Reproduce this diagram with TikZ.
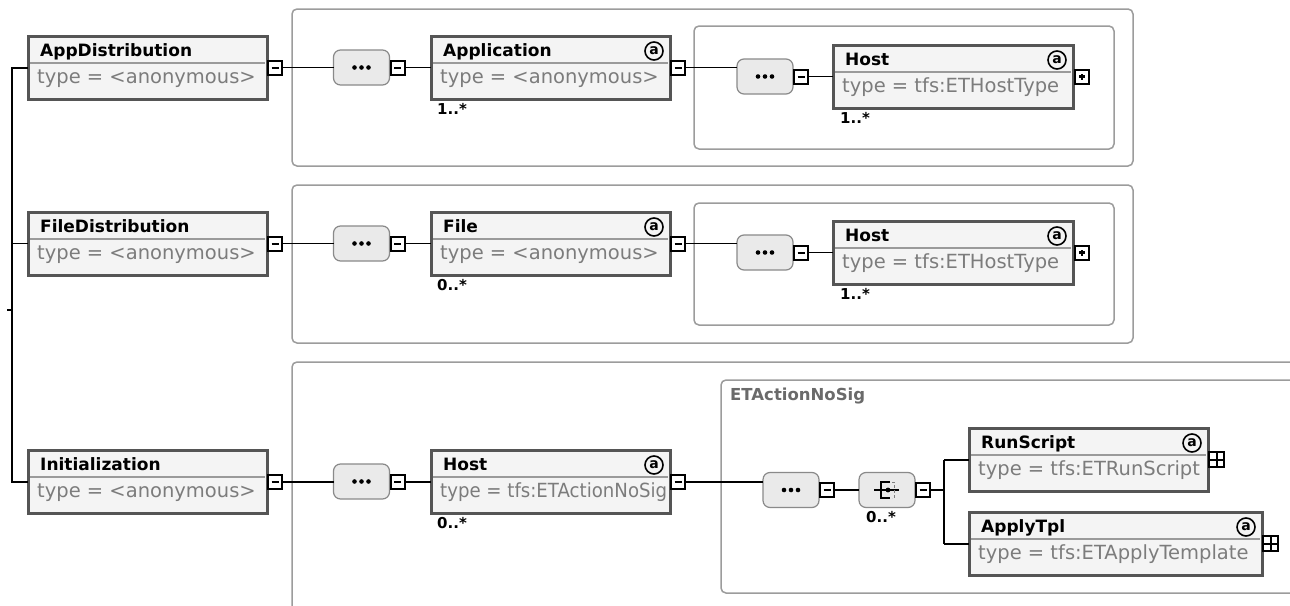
\documentclass[tikz,border=0pt]{standalone}
\usepackage{fontspec}
\usepackage{graphicx}
\setmainfont{DejaVu Sans}
\usetikzlibrary{calc}
\definecolor{elemborder}{HTML}{555555}
\definecolor{elemfill}{HTML}{F4F4F4}
\definecolor{divgray}{HTML}{9A9A9A}
\definecolor{typegray}{HTML}{7C7C7C}
\definecolor{seqborder}{HTML}{8A8A8A}
\definecolor{seqfill}{HTML}{EAEAEA}
\definecolor{grpgray}{HTML}{9C9C9C}
\definecolor{grptext}{HTML}{6A6A6A}

\newcommand\elembox[6]{%
  \node[elem, minimum width=#4pt, anchor=north west] (#1) at (#2,#3) {};
  \draw[divider] ($(#1.north west)+(2,27)$) -- ($(#1.north east)+(-2,27)$);
  \node[ttl, anchor=base west] (#1-t) at ($(#1.north west)+(12,20)$) {#5};
  \node[typ, anchor=base west] (#1-y) at ($(#1.north west)+(9,47)$) {#6};
}
\newcommand\attrmark[1]{%
  \node[attrc] (#1-a) at ($(#1.north east)+(-16,15)$) {a};
}
\newcommand\minusbox[2]{%
  \node[mbox, anchor=west] (#2) at ($(#1.east)+(1,0)$) {};
  \draw[line width=2] ($(#2.center)+(-3.5,0)$) -- ($(#2.center)+(3.5,0)$);
}
\newcommand\dotbox[2]{%
  \node[mbox, anchor=west] (#2) at ($(#1.east)+(2,0)$) {};
  \fill ($(#2.center)+(-1.2,-3)$) rectangle ($(#2.center)+(1.2,3)$);
  \fill ($(#2.center)+(-3,-1.2)$) rectangle ($(#2.center)+(3,1.2)$);
}
\newcommand\plusbox[2]{%
  \node[pbox, anchor=west] (#2) at ($(#1.east)+(1,0)$) {};
  \draw[line width=2] (#2.north) -- (#2.south) (#2.west) -- (#2.east);
}
\newcommand\seqdots[1]{%
  \foreach \dx in {-7,0,7} \fill ($(#1.center)+(\dx,0)$) circle (2.3);
}
\newcommand\multlab[3]{%
  \node[mult, anchor=north west] (#1-m) at ($(#1.south west)+(#2,4)$) {#3};
}

\begin{document}
\begin{tikzpicture}[x=1pt,y=-1pt,
  elem/.style={rectangle, draw=elemborder, line width=3, fill=elemfill, minimum height=63pt, inner sep=0pt, outer sep=0pt},
  divider/.style={draw=divgray, line width=1.2},
  ttl/.style={font=\bfseries\fontsize{17}{20}\selectfont, inner sep=0pt},
  typ/.style={font=\fontsize{19.5}{22}\selectfont, text=typegray, inner sep=0pt},
  seqbox/.style={rectangle, rounded corners=7pt, draw=seqborder, fill=seqfill, line width=1.2, minimum width=56pt, minimum height=35pt, inner sep=0pt, outer sep=0pt},
  mbox/.style={rectangle, draw=black, fill=white, line width=2, minimum size=14pt, inner sep=0pt, outer sep=0pt},
  pbox/.style={rectangle, draw=black, fill=white, line width=2.2, minimum size=15pt, inner sep=0pt, outer sep=0pt},
  conn/.style={draw=black, line width=1.5},
  connb/.style={draw=black, line width=2},
  grp/.style={draw=grpgray, line width=1.5, rounded corners=5pt},
  mult/.style={font=\bfseries\fontsize{15}{17}\selectfont, inner sep=0pt},
  attrc/.style={circle, draw=black, line width=1.6, minimum size=18pt, inner sep=0pt, font=\bfseries\fontsize{14}{14}\selectfont},
  grptitle/.style={font=\bfseries\fontsize{16.5}{18}\selectfont, text=grptext, inner sep=0pt}
]
\clip (0,0) rectangle (1290,605);
\fill[white] (0,0) rectangle (1290,605);

% group boxes
\draw[grp] (292,9) rectangle (1133,166);
\draw[grp] (694,26) rectangle (1114,149);
\draw[grp] (292,185) rectangle (1133,343);
\draw[grp] (694,203) rectangle (1114,325);
\draw[grp] (292,362) rectangle (1310,640);
\draw[grp] (721,380) rectangle (1310,593);
\node[grptitle, anchor=base west] (etl) at (730,400) {ETActionNoSig};

% ---------- Row 1 ----------
\elembox{ad}{28}{36}{239}{AppDistribution}{type = <anonymous>}
\minusbox{ad}{adm}
\node[seqbox] (s1) at (361.5,67.5) {}; \seqdots{s1}
\minusbox{s1}{s1m}
\elembox{app}{431}{36}{239}{Application}{type = <anonymous>}
\attrmark{app}
\minusbox{app}{appm}
\multlab{app}{6}{1..*}
\node[seqbox] (s2) at (765,76.5) {}; \seqdots{s2}
\minusbox{s2}{s2m}
\elembox{h1}{833}{45}{240}{Host}{type = tfs:ETHostType}
\attrmark{h1}
\dotbox{h1}{h1p}
\multlab{h1}{7}{1..*}
\draw[conn] (adm.east) -- (s1.west);
\draw[conn] (s1m.east) -- (app.west);
\draw[conn] (appm.east) -- (appm.east -| s2.west);
\draw[conn] (s2m.east) -- (h1.west);

% ---------- Row 2 ----------
\elembox{fd}{28}{212}{239}{FileDistribution}{type = <anonymous>}
\minusbox{fd}{fdm}
\node[seqbox] (s3) at (361.5,243.5) {}; \seqdots{s3}
\minusbox{s3}{s3m}
\elembox{file}{431}{212}{239}{File}{type = <anonymous>}
\attrmark{file}
\minusbox{file}{filem}
\multlab{file}{6}{0..*}
\node[seqbox] (s4) at (765,252.5) {}; \seqdots{s4}
\minusbox{s4}{s4m}
\elembox{h2}{833}{221}{240}{Host}{type = tfs:ETHostType}
\attrmark{h2}
\dotbox{h2}{h2p}
\multlab{h2}{7}{1..*}
\draw[conn] (fdm.east) -- (s3.west);
\draw[conn] (s3m.east) -- (file.west);
\draw[conn] (filem.east) -- (filem.east -| s4.west);
\draw[conn] (s4m.east) -- (h2.west);

% ---------- Row 3 ----------
\elembox{ini}{28}{450}{239}{Initialization}{type = <anonymous>}
\minusbox{ini}{inim}
\node[seqbox] (s5) at (361.5,481.5) {}; \seqdots{s5}
\minusbox{s5}{s5m}
\elembox{h3}{431}{450}{239}{Host}{\scalebox{0.93}[1]{type = tfs:ETActionNoSig}}
\attrmark{h3}
\minusbox{h3}{h3m}
\multlab{h3}{6}{0..*}
\node[seqbox] (s6) at (791,490) {}; \seqdots{s6}
\minusbox{s6}{s6m}
\node[seqbox] (ch) at (887,490) {};
\minusbox{ch}{chm}
% choice icon
\draw[line width=1.2] ($(ch.center)+(-13,0)$) -- ($(ch.center)+(12,0)$);
\draw[line width=1.2] ($(ch.center)+(3,-8)$) -- ($(ch.center)+(-6,-8)$) -- ($(ch.center)+(-6,8)$) -- ($(ch.center)+(3,8)$);
\draw[line width=1, gray, densely dashed] ($(ch.center)+(5,-8)$) -- ($(ch.center)+(7,-8)$) -- ($(ch.center)+(7,8)$) -- ($(ch.center)+(5,8)$);
\fill ($(ch.center)+(1,0)$) circle (2.4);
\multlab{ch}{7}{0..*}
\elembox{rs}{969}{428}{239}{RunScript}{type = tfs:ETRunScript}
\attrmark{rs}
\plusbox{rs}{rsp}
\elembox{at}{969}{512}{293}{ApplyTpl}{type = tfs:ETApplyTemplate}
\attrmark{at}
\plusbox{at}{atp}
\coordinate (br) at (944,490);
\draw[connb] (inim.east) -- (s5.west);
\draw[connb] (s5m.east) -- (h3.west);
\draw[connb] (h3m.east) -- (h3m.east -| s6.west);
\draw[conn] (s6m.east) -- (ch.west);
\draw[conn] (chm.east) -- (br);
\draw[connb] (br |- rs.west) -- (br |- at.west);
\draw[connb] (br |- rs.west) -- (rs.west);
\draw[connb] (br |- at.west) -- (at.west);

% ---------- left tree ----------
\coordinate (tree) at (12,67.5);
\coordinate (tick) at (7,310);
\draw[connb] (ad.west) -- (ad.west -| tree) -- (ini.west -| tree) -- (ini.west);
\draw[conn] (fd.west -| tree) -- (fd.west);
\draw[conn] (tick) -- (tick -| tree);
\end{tikzpicture}
\end{document}
